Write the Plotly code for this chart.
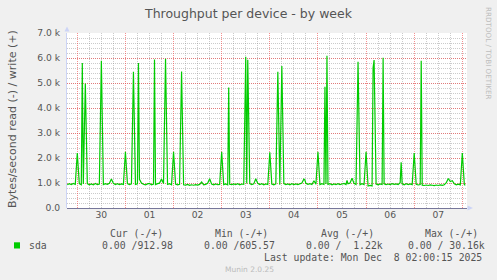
import plotly.graph_objects as go
from datetime import datetime, timedelta

# ---------------- data (write bytes/s, 1-hour samples) ----------------
series_start = "2025-11-29 19:00"
nov29 = [930, 975, 940, 985, 950]  # 19:00 .. 23:00
nov30 = [2200, 975, 930, 960, 4980, 975, 930, 965, 925, 980, 940, 960,
         5890, 935, 970, 945, 990, 1160, 985, 940, 975, 935, 965, 945]
dec01 = [2250, 975, 935, 970, 5450, 945, 965, 1150, 1000, 950, 925, 965,
         980, 930, 960, 935, 975, 995, 1160, 975, 5970, 945, 970, 930]
dec02 = [2250, 955, 925, 945, 5460, 930, 915, 940, 905, 930, 910, 935,
         915, 945, 1040, 925, 945, 990, 1170, 955, 925, 960, 930, 945]
dec03 = [2250, 935, 960, 925, 950, 935, 965, 940, 975, 930, 960, 945,
         6050, 5930, 975, 935, 965, 1170, 985, 940, 970, 930, 960, 940]
dec04 = [2230, 960, 930, 965, 5450, 935, 5680, 975, 940, 965, 930, 975,
         940, 965, 935, 975, 995, 1160, 985, 945, 975, 940, 1090, 950]
dec05 = [2250, 935, 970, 940, 960, 945, 975, 930, 965, 940, 975, 935,
         960, 985, 940, 970, 1000, 1190, 985, 940, 5850, 930, 970, 935]
dec06 = [2250, 880, 905, 885, 5920, 960, 930, 965, 940, 970, 935, 960,
         940, 975, 945, 965, 940, 1010, 965, 930, 970, 940, 965, 935]
dec07 = [2200, 945, 920, 940, 915, 900, 920, 900, 925, 910, 895, 920,
         900, 925, 905, 930, 1010, 1180, 1060, 1090, 970, 930, 955, 925]
dec08 = [2200, 935]  # 00:00 .. 01:00

# half-hour samples
half_times = ["2025-11-30 02:30", "2025-12-01 06:30", "2025-12-01 14:30",
              "2025-12-03 03:30", "2025-12-03 12:30", "2025-12-04 17:30",
              "2025-12-05 03:30", "2025-12-05 04:30", "2025-12-05 14:30",
              "2025-12-06 03:30", "2025-12-06 08:30", "2025-12-06 17:30",
              "2025-12-07 03:30", "2025-12-08 01:30"]
half_values = [5800, 5800, 5940,
               4820, 980, 1120,
               4850, 6090, 1100,
               5610, 6010, 1830,
               5890, 913]

y_tick_vals = [0, 1000, 2000, 3000, 4000, 5000, 6000, 7000]
y_tick_text = ["0.0", "1.0 k", "2.0 k", "3.0 k", "4.0 k", "5.0 k", "6.0 k", "7.0 k"]

title_text = "Throughput per device - by week"
y_title = "Bytes/second read (-) / write (+)"
col_heads = ["Cur (-/+)", "Min (-/+)", "Avg (-/+)", "Max (-/+)"]
col_vals = ["0.00 /912.98", "0.00 /605.57", "0.00 /  1.22k", "0.00 / 30.16k"]
series_name = "sda"
last_update = "Last update: Mon Dec  8 02:00:15 2025"
footer = "Munin 2.0.25"
side_text = "RRDTOOL / TOBI OETIKER"

# ---------------- build series ----------------
t0 = datetime.strptime(series_start, "%Y-%m-%d %H:%M")
hourly = nov29 + nov30 + dec01 + dec02 + dec03 + dec04 + dec05 + dec06 + dec07 + dec08
pts = [(t0 + timedelta(hours=i), v) for i, v in enumerate(hourly)]
pts += [(datetime.strptime(t, "%Y-%m-%d %H:%M"), v) for t, v in zip(half_times, half_values)]
pts.sort(key=lambda p: p[0])
xs = [p[0] for p in pts]
ys = [p[1] for p in pts]

# ---------------- figure ----------------
W, H = 497, 280
L, R, T, B = 67, 467, 33, 208
def px(x): return (x - L) / (R - L)
def py(y): return (B - y) / (B - T)
def nb(s): return s.replace(" ", "\u00a0")

FONT = "DejaVu Sans"
MONO = "DejaVu Sans Mono"
TXT = "#555555"
RED_GRID = "rgba(240,70,70,0.6)"
GREY_GRID = "rgba(140,140,140,0.45)"
AXIS_C = "#CCD4F6"

fig = go.Figure()
fig.add_trace(go.Scatter(x=xs, y=ys, mode="lines",
                         line=dict(color="#00CC00", width=1.2), showlegend=False,
                         hoverinfo="skip"))

fig.update_layout(
    width=W, height=H,
    margin=dict(l=L, r=W - R, t=T, b=H - B, pad=0),
    paper_bgcolor="#F0F0F0", plot_bgcolor="#FFFFFF",
    showlegend=False,
    font=dict(family=FONT, color=TXT, size=9.2),
)
fig.update_xaxes(
    type="date",
    range=["2025-11-29 18:52", "2025-12-08 02:20"],
    tick0="2025-11-30", dtick=86400000, tickformat="%d", ticklabelmode="period",
    ticks="", showgrid=True, gridcolor=RED_GRID, griddash="1px,1px", gridwidth=1,
    minor=dict(tick0="2025-11-30", dtick=21600000, showgrid=True,
               gridcolor=GREY_GRID, griddash="1px,1px", gridwidth=1, ticks=""),
    tickfont=dict(family=FONT, size=9.2, color=TXT),
    showline=False, zeroline=False, fixedrange=True,
)
fig.update_yaxes(
    range=[0, 7000], tickvals=y_tick_vals, ticktext=y_tick_text,
    ticks="", showgrid=True, gridcolor=RED_GRID, griddash="1px,1px", gridwidth=1,
    minor=dict(dtick=200, showgrid=True, gridcolor=GREY_GRID, griddash="1px,1px",
               gridwidth=1, ticks=""),
    tickfont=dict(family=FONT, size=9.2, color=TXT),
    showline=True, linecolor=AXIS_C, linewidth=1,
    zeroline=True, zerolinecolor="#77779A", zerolinewidth=1,
    ticklabelstandoff=4,
)

shapes = [
    # axis arrows
    dict(type="path", xref="paper", yref="paper", fillcolor=AXIS_C, line=dict(width=0),
         path=f"M {px(64.5)},{py(31.5)} L {px(67)},{py(26.5)} L {px(69.5)},{py(31.5)} Z"),
    dict(type="path", xref="paper", yref="paper", fillcolor=AXIS_C, line=dict(width=0),
         path=f"M {px(467.5)},{py(205.5)} L {px(473)},{py(208)} L {px(467.5)},{py(210.5)} Z"),
    # legend colour box
    dict(type="rect", xref="paper", yref="paper", x0=px(14), x1=px(20), y0=py(248.5), y1=py(242.3),
         fillcolor="#00CC00", line=dict(width=0)),
]

ann = []
def add(text, x, y, size, family=FONT, color=TXT, xanchor="center", angle=0):
    ann.append(dict(text=text, x=px(x), y=py(y), xref="paper", yref="paper",
                    showarrow=False, xanchor=xanchor, yanchor="middle",
                    textangle=angle, font=dict(family=family, size=size, color=color)))

add(title_text, 248, 13.5, 12.5)
add(y_title, 12, 119, 11, angle=-90)
add(side_text, 489, 53, 7.2, color="#BEBEBE", angle=90)

head_x = [107.7, 213.3, 319, 423.3]
val_x = [99.7, 201.7, 304.3, 406.3]
for h, xh in zip(col_heads, head_x):
    add(nb(h), xh, 233.3, 9.8, family=MONO, xanchor="left")
for v, xv in zip(col_vals, val_x):
    add(nb(v), xv, 245.7, 9.8, family=MONO, xanchor="left")
add(series_name, 26.7, 245.7, 9.8, family=MONO, xanchor="left")
add(nb(last_update), 483.5, 257.7, 9.8, family=MONO, xanchor="right")
add(footer, 249, 269, 7.5, color="#BBBBBB")

fig.update_layout(shapes=shapes, annotations=ann)
fig.write_html("out.html")
